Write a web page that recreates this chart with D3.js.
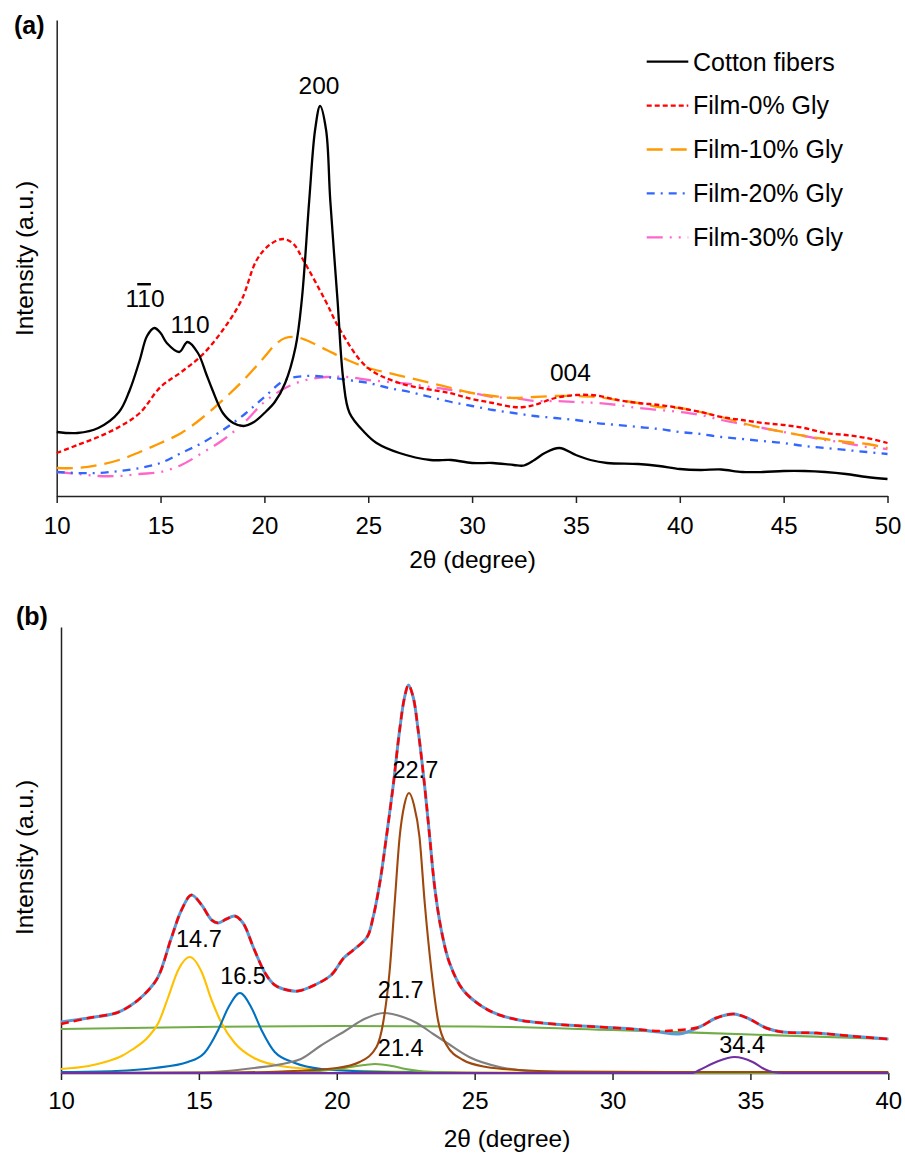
<!DOCTYPE html>
<html>
<head>
<meta charset="utf-8">
<script src="https://cdn.jsdelivr.net/npm/d3@7"></script>
<style>
body{margin:0;background:#fff;}
svg text{font-family:"Liberation Sans",Arial,sans-serif;fill:#000;}
</style>
</head>
<body>
<script>
// ---------- panel (a): XRD patterns, [2theta (degree), intensity (a.u.)]
const cottonFibers = [[10,64],[11,63],[12,68],[13,84],[13.5,105],[14,136],[14.35,160],[14.7,168],[15.0,163],[15.3,153],[15.9,144],[16.3,154],[16.8,143],[17.2,122],[17.5,106],[18,83],[18.5,73],[19,70],[19.5,74],[20,83],[20.5,94],[21,113],[21.5,149],[21.8,196],[22.16,296],[22.44,366],[22.68,390],[22.97,366],[23.17,296],[23.52,196],[23.8,116],[24.1,83],[24.85,63],[25.4,53],[26.5,43],[28,36],[29,36],[30,33],[31,33],[32,31],[32.5,30.5],[33,36],[33.5,43],[34.2,48],[35,41],[35.7,36],[36.5,33],[38,32],[39,30],[40,27],[41,26],[42,26.5],[43,24],[44,24],[45,25],[46,25],[47,24],[48,22],[49,19],[50,17]];
const film0 = [[10,43],[11,51],[12,59],[13,69],[14,83],[15,109],[16,124],[17,141],[18,166],[18.9,196],[19.63,236],[20.3,252],[20.92,257],[21.4,252],[21.87,236],[22.92,196],[23.65,166],[24.93,129],[26.5,113],[28.9,103],[30,97],[31,93],[32,89],[32.5,89],[33,91],[34,98],[35,101],[36,100.5],[37,96],[38,93],[39,91],[40,88],[41,84],[42,79],[43,76],[44,73],[45,71],[46,68],[47,63],[48,61],[49,58],[50,53]];
const film10 = [[10,28],[11,28],[12,31],[13,36],[14,44],[15,53],[16,63],[17,78],[18,96],[19,116],[20,139],[20.5,151],[21,158],[21.5,159],[22,156],[23,146],[24,136],[25,128],[26,123],[27,118],[28,113],[29,108],[30,103],[31,100],[32,98],[33,99],[34,100],[35,100],[36,99],[37,96],[38,93],[39,89],[40,88],[41,84],[42,79],[43,73],[44,68],[45,64],[46,60],[47,57],[48,54],[49,52],[50,48]];
const film20 = [[10,24],[11,23],[12,23],[13,25],[14,28],[15,33],[16,43],[17,53],[18,66],[19,81],[20,99],[21,116],[22,120],[23,119],[24,116],[25,113],[26,108],[27,104],[28,99],[29,94],[30,90],[31,86],[32,83],[33,80],[34,78],[35,76],[36,73],[37,71],[38,69],[39,67],[40,64],[41,62],[42,59],[43,57],[44,55],[45,53],[46,50],[47,48],[48,46],[49,44],[50,42]];
const film30 = [[10,24],[11,22],[12,20],[13,20],[14,22],[15,24],[16,31],[17,43],[18,56],[19,73],[20,94],[21,108],[22,116],[23,119],[24,119],[25,116],[26,114],[27,112],[28,109],[29,106],[30,103],[31,99],[32,98],[33,95],[34,95],[35,94],[36,93],[37,91],[38,88],[39,86],[40,84],[41,81],[42,76],[43,72],[44,68],[45,64],[46,60],[47,56],[48,53],[49,49],[50,47]];

const seriesA = [cottonFibers, film0, film10, film20, film30];
const namesA = ["Cotton fibers", "Film-0% Gly", "Film-10% Gly", "Film-20% Gly", "Film-30% Gly"];
const colorsA = ["#000000", "#FF0000", "#FF9900", "#3366FF", "#FF66CC"];
const dashesA = [null, "5,3", "16,8", "8,6,2,6", "16,7,2,7,2,7"];
const ticksA = [10, 15, 20, 25, 30, 35, 40, 45, 50];
// miller indices: [label, 2theta, intensity]
const hklLabels = [["1-10", 14.25, 189], ["110", 16.42, 163], ["200", 22.63, 402], ["004", 34.73, 115]];

// ---------- panel (b): peak deconvolution of cotton fibers
const measuredB = [[10,49],[11,55],[12,60],[12.5,67],[13,78],[13.5,95],[14,135],[14.37,163],[14.73,178],[15.1,168],[15.46,153],[15.7,150],[16.0,154],[16.3,157],[16.6,150],[17.0,124],[17.4,100],[17.75,88],[18.2,83],[18.6,82],[19.2,88],[19.8,98],[20.25,115],[20.6,123],[21.1,136],[21.32,156],[21.56,190],[21.8,236],[22.04,286],[22.28,343],[22.46,376],[22.6,388],[22.77,376],[22.95,343],[23.19,286],[23.37,236],[23.55,186],[23.79,143],[24.09,110],[24.58,83],[25.3,66],[25.9,58],[26.6,53],[27.1,51],[28.3,48],[29.5,46],[30.7,44],[31.7,42],[32.4,43],[33.15,46],[33.76,55],[34.4,59],[34.96,54],[35.57,45],[36.17,41],[37.4,40],[38.6,37],[40,34]];
const fittedB = [[10,51],[11,55],[12,60],[12.5,67],[13,78],[13.5,95],[14,135],[14.37,163],[14.73,178],[15.1,168],[15.46,153],[15.7,150],[16.0,154],[16.3,157],[16.6,150],[17.0,124],[17.4,100],[17.75,88],[18.2,83],[18.6,82],[19.2,88],[19.8,98],[20.25,115],[20.6,123],[21.1,136],[21.32,156],[21.56,190],[21.8,236],[22.04,286],[22.28,343],[22.46,376],[22.6,388],[22.77,376],[22.95,343],[23.19,286],[23.37,236],[23.55,186],[23.79,143],[24.09,110],[24.58,83],[25.3,66],[25.9,58],[26.6,53],[27.1,51],[28.3,48],[29.5,46],[30.7,44],[31.7,41],[32.4,39],[33.15,46],[33.76,55],[34.4,59],[34.96,54],[35.57,45],[36.17,41],[37.4,40],[38.6,37],[40,34]];
const backgroundB = [[10,44],[15,46],[20,47],[25,46.5],[30,43],[35,38.5],[40,34]];
const peak147 = [[10,4],[11,7],[11.6,11],[12.2,17],[12.56,23],[13.16,36],[13.53,50],[13.89,76],[14.25,103],[14.67,116],[15.1,101],[15.46,73],[15.82,50],[16.3,30],[17.0,15],[18.2,6],[20,3],[22,1.5],[25,0.5],[30,0],[40,0]];
const peak165 = [[10,1],[12,2],[13.4,5],[14.6,11],[15.2,20],[15.7,43],[16.06,65],[16.49,80],[16.91,65],[17.27,43],[17.75,21],[18.48,10],[19.45,4],[21,1.5],[23,0.5],[26,0],[40,0]];
const peak217 = [[10,0],[15,0.5],[17,5],[18.2,10],[18.7,14],[19.4,27],[20.3,42],[21.0,54],[21.7,60],[22.4,56],[22.9,50],[23.5,39],[24.0,30],[24.8,16],[25.9,6],[26.9,2],[28,0.5],[30,0],[40,0]];
const peak214 = [[10,0],[18,0],[19,1],[20,4],[20.5,6],[21,8],[21.4,9],[22,7],[22.5,4],[23,2],[24,0.5],[25,0],[40,0]];
const peak227 = [[10,0],[16,0.5],[18,1.5],[20,5],[20.83,11],[21.44,26],[21.68,50],[21.92,103],[22.1,170],[22.28,236],[22.45,268],[22.62,280],[22.8,268],[23.0,236],[23.19,170],[23.43,103],[23.67,53],[23.98,28],[24.58,13],[25.42,6],[26.6,3],[28,1.5],[32,1],[40,1]];
const peak344 = [[10,0],[32.9,0],[33.15,3],[33.76,11],[34.42,16],[35.08,11],[35.5,4],[35.81,1],[36.2,0],[40,0]];

const componentsB = [backgroundB, peak147, peak165, peak217, peak214, peak227, peak344];
const componentColors = ["#70AD47", "#FFC000", "#0070C0", "#808080", "#70AD47", "#9E480E", "#7030A0"];
const ticksB = [10, 15, 20, 25, 30, 35, 40];
// fitted peak positions: [label, 2theta, intensity]
const peakLabels = [["14.7", 15.0, 126], ["16.5", 16.6, 89], ["22.7", 22.85, 295], ["21.7", 22.32, 75], ["21.4", 22.32, 17], ["34.4", 34.7, 20]];

const font = '"Liberation Sans", Arial, sans-serif';
const svg = d3.select("body").append("svg")
	.attr("width", 905)
	.attr("height", 1154);

// scales
const xA = d3.scaleLinear().domain([10, 50]).range([56.7, 887.5]);
const yA = d3.scaleLinear().domain([0, 476]).range([496, 20]);
const xB = d3.scaleLinear().domain([10, 40]).range([61, 888.3]);
const yB = d3.scaleLinear().domain([0, 446]).range([1073, 627]);

function drawAxes(x, y, ticks, pad, yBottom) {
	svg.append("g")
		.attr("transform", "translate(0," + yBottom + ")")
		.call(d3.axisBottom(x).tickValues(ticks).tickSize(7).tickSizeOuter(0).tickPadding(pad).tickFormat(d3.format("d")))
		.attr("font-family", font)
		.attr("font-size", 24)
		.call(g => g.selectAll(".domain,.tick line").attr("stroke", "#222").attr("stroke-width", 1.5))
		.call(g => g.selectAll("text").attr("fill", "#000"));
	svg.append("g")
		.attr("transform", "translate(" + x.range()[0] + ",0)")
		.call(d3.axisLeft(y).tickValues([]).tickSizeOuter(0))
		.call(g => g.select(".domain").attr("stroke", "#222").attr("stroke-width", 1.5));
}

function line(x, y, curve) {
	return d3.line().x(d => x(d[0])).y(d => y(d[1])).curve(curve);
}

// ---------------- panel (a)
drawAxes(xA, yA, ticksA, 14, 496);
const lineA = line(xA, yA, d3.curveCatmullRom.alpha(0.5));
svg.append("g").selectAll("path")
	.data(seriesA.slice().reverse())
	.join("path")
	.attr("d", lineA)
	.attr("fill", "none")
	.attr("stroke", (d, i) => colorsA[seriesA.length - 1 - i])
	.attr("stroke-width", 2.3)
	.attr("stroke-dasharray", (d, i) => dashesA[seriesA.length - 1 - i]);

// legend
const legend = svg.append("g");
namesA.forEach(function(name, i) {
	const cy = 61.7 + i * 43.9;
	legend.append("line")
		.attr("x1", 646.7).attr("x2", 688.3)
		.attr("y1", cy).attr("y2", cy)
		.attr("stroke", colorsA[i])
		.attr("stroke-width", 2.3)
		.attr("stroke-dasharray", dashesA[i]);
	legend.append("text")
		.attr("x", 693).attr("y", cy + 8.8)
		.attr("font-size", 25)
		.text(name);
});

// miller index labels
hklLabels.forEach(function(l) {
	const t = svg.append("text")
		.attr("x", xA(l[1])).attr("y", yA(l[2]))
		.attr("text-anchor", "middle")
		.attr("font-size", 24.5);
	if (l[0] === "1-10") {
		// 1, barred 1, 0
		t.append("tspan").text("1");
		t.append("tspan").style("text-decoration", "overline").text("1");
		t.append("tspan").text("0");
	} else {
		t.text(l[0]);
	}
});

svg.append("text").attr("x", 472.5).attr("y", 568).attr("text-anchor", "middle").attr("font-size", 24.5).text("2θ (degree)");
svg.append("text").attr("transform", "translate(32.5,258.5) rotate(-90)").attr("text-anchor", "middle").attr("font-size", 24.5).text("Intensity (a.u.)");
svg.append("text").attr("x", 14).attr("y", 34).attr("font-size", 25).attr("font-weight", "bold").text("(a)");

// ---------------- panel (b)
drawAxes(xB, yB, ticksB, 12, 1073);
const lineB = line(xB, yB, d3.curveMonotoneX);
const lineFit = line(xB, yB, d3.curveCatmullRom.alpha(0.5));
svg.append("g").selectAll("path")
	.data(componentsB)
	.join("path")
	.attr("d", lineB)
	.attr("fill", "none")
	.attr("stroke", (d, i) => componentColors[i])
	.attr("stroke-width", 2.1);
svg.append("path").datum(fittedB)
	.attr("d", lineFit).attr("fill", "none")
	.attr("stroke", "#5B9BD5").attr("stroke-width", 3);
svg.append("path").datum(measuredB)
	.attr("d", lineFit).attr("fill", "none")
	.attr("stroke", "#FF0000").attr("stroke-width", 2.5)
	.attr("stroke-dasharray", "8,5");

svg.append("g").selectAll("text")
	.data(peakLabels)
	.join("text")
	.attr("x", d => xB(d[1]))
	.attr("y", d => yB(d[2]))
	.attr("text-anchor", "middle")
	.attr("font-size", 23.5)
	.text(d => d[0]);

svg.append("text").attr("x", 507).attr("y", 1147).attr("text-anchor", "middle").attr("font-size", 24.5).text("2θ (degree)");
svg.append("text").attr("transform", "translate(32.5,857.5) rotate(-90)").attr("text-anchor", "middle").attr("font-size", 24.5).text("Intensity (a.u.)");
svg.append("text").attr("x", 16).attr("y", 625).attr("font-size", 25).attr("font-weight", "bold").text("(b)");
</script>
</body>
</html>
